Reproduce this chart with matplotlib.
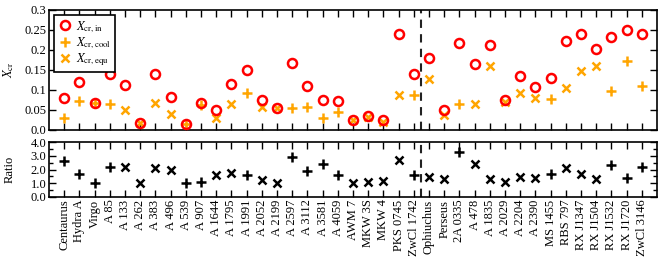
import matplotlib
matplotlib.use("Agg")
import matplotlib.pyplot as plt
import numpy as np
from matplotlib.ticker import MultipleLocator, FixedLocator

plt.rcParams["font.family"] = "Liberation Serif"
plt.rcParams["mathtext.fontset"] = "stix"
plt.rcParams["font.size"] = 9

clusters = ["Centaurus", "Hydra A", "Virgo", "A 85", "A 133", "A 262", "A 383",
            "A 496", "A 539", "A 907", "A 1644", "A 1795", "A 1991", "A 2052",
            "A 2199", "A 2597", "A 3112", "A 3581", "A 4059", "AWM 7", "MKW 3S",
            "MKW 4", "PKS 0745", "ZwCl 1742", "Ophiuchus", "Perseus", "2A 0335",
            "A 478", "A 1835", "A 2029", "A 2204", "A 2390", "MS 1455", "RBS 797",
            "RX J1347", "RX J1504", "RX J1532", "RX J1720", "ZwCl 3146"]

x_in = [0.081, 0.120, 0.068, 0.140, 0.112, 0.018, 0.141, 0.083, 0.014, 0.068,
        0.051, 0.114, 0.150, 0.075, 0.056, 0.167, 0.109, 0.075, 0.073, 0.024,
        0.036, 0.024, 0.241, 0.140, 0.179, 0.051, 0.218, 0.164, 0.213, 0.075,
        0.134, 0.108, 0.129, 0.222, 0.240, 0.203, 0.232, 0.251, 0.240]

# second estimate: "cool" (+) or "equ" (x) depending on the cluster
x_other = [0.030, 0.073, 0.068, 0.064, 0.051, 0.018, 0.067, 0.041, 0.014, 0.062,
           0.031, 0.066, 0.092, 0.058, 0.056, 0.055, 0.058, 0.030, 0.046, 0.024,
           0.032, 0.019, 0.088, 0.088, 0.127, 0.038, 0.065, 0.066, 0.161, 0.069,
           0.092, 0.079, 0.077, 0.104, 0.147, 0.159, 0.098, 0.173, 0.111]

model = ["cool", "cool", "cool", "cool", "equ", "equ", "equ", "equ", "cool", "cool",
         "equ", "equ", "cool", "equ", "equ", "cool", "cool", "cool", "cool", "equ",
         "equ", "equ", "equ", "cool", "equ", "equ", "cool", "equ", "equ", "equ",
         "equ", "equ", "cool", "equ", "equ", "equ", "cool", "cool", "cool"]

ratio = [2.60, 1.65, 1.03, 2.16, 2.19, 1.03, 2.09, 1.97, 0.98, 1.11,
         1.60, 1.72, 1.62, 1.25, 1.03, 2.95, 1.87, 2.44, 1.58, 0.98,
         1.11, 1.18, 2.70, 1.60, 1.43, 1.28, 3.29, 2.43, 1.33, 1.08,
         1.47, 1.35, 1.70, 2.09, 1.67, 1.28, 2.36, 1.40, 2.16]

split = 23.5
orange = "#FFA500"

xs = np.arange(len(clusters))
x_in = np.array(x_in)
x_other = np.array(x_other)
ratio = np.array(ratio)
is_cool = np.array([m == "cool" for m in model])

fig = plt.figure(figsize=(6.63, 2.63), dpi=100)
ax1 = fig.add_axes([0.0739, 0.506, 0.917, 0.456])
ax2 = fig.add_axes([0.0739, 0.252, 0.917, 0.207])

ax1.plot(xs, x_in, "o", ms=6.5, mfc="none", mec="red", mew=1.8,
         label=r"$X_{\rm cr,in}$", zorder=3)
ax1.plot(xs[is_cool], x_other[is_cool], "+", ms=7, color=orange, mew=1.8,
         label=r"$X_{\rm cr,cool}$", zorder=2)
ax1.plot(xs[~is_cool], x_other[~is_cool], "x", ms=6, color=orange, mew=1.8,
         label=r"$X_{\rm cr,equ}$", zorder=2)
ax1.axvline(split, color="#222222", ls="--", lw=1.5, dashes=(4, 3))

ax1.set_xlim(-1, len(clusters))
ax1.set_ylim(0, 0.3)
ax1.yaxis.set_major_locator(FixedLocator([0, 0.05, 0.1, 0.15, 0.2, 0.25, 0.3]))
ax1.set_yticklabels(["0.0", "0.05", "0.1", "0.15", "0.2", "0.25", "0.3"])
ax1.set_xticks(xs)
ax1.set_xticklabels([])
ax1.set_ylabel(r"$X_{\rm cr}$", labelpad=2)
leg = ax1.legend(loc="upper left", fancybox=False, edgecolor="black",
                 framealpha=1, handletextpad=0.4, borderpad=0.3,
                 labelspacing=0.05, handlelength=1.1, fontsize=9,
                 borderaxespad=0.4)
leg.get_frame().set_linewidth(1.2)

ax2.plot(xs[is_cool], ratio[is_cool], "+", ms=7, color="black", mew=1.8)
ax2.plot(xs[~is_cool], ratio[~is_cool], "x", ms=6, color="black", mew=1.8)
ax2.axvline(split, color="#222222", ls="--", lw=1.5, dashes=(4, 3))
ax2.set_xlim(-1, len(clusters))
ax2.set_ylim(0, 4)
ax2.yaxis.set_major_locator(FixedLocator([0, 1, 2, 3, 4]))
ax2.yaxis.set_minor_locator(MultipleLocator(0.5))
ax2.set_yticklabels(["0.0", "1.0", "2.0", "3.0", "4.0"])
ax2.set_xticks(xs)
ax2.set_xticklabels(clusters, rotation=90)
ax2.set_ylabel("Ratio", labelpad=4)

for ax in (ax1, ax2):
    for s in ax.spines.values():
        s.set_linewidth(1.2)
    ax.tick_params(which="both", direction="in", top=True, right=True,
                   width=1.0, pad=2)
    ax.tick_params(which="major", length=5)
    ax.tick_params(which="minor", length=3)

ax1.yaxis.set_label_coords(-0.055, 0.5)
ax2.yaxis.set_label_coords(-0.055, 0.5)

fig.savefig("out.png", dpi=100)
